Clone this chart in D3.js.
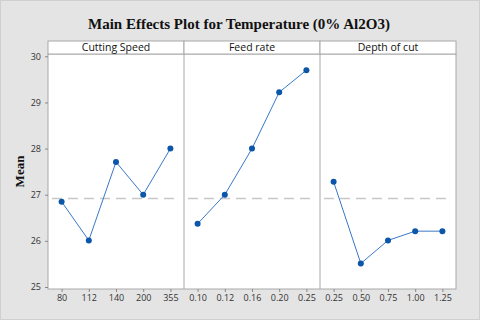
<!DOCTYPE html>
<html>
<head>
<meta charset="utf-8">
<script src="https://cdn.jsdelivr.net/npm/d3@7"></script>
<style>
  html, body { margin: 0; padding: 0; background: #fff; }
  svg { display: block; }
  .tick text { font-family: "Open Sans", "DejaVu Sans", sans-serif; font-size: 9px; fill: #333; }
  .tick line { stroke: #888; }
  .domain { display: none; }
</style>
</head>
<body>
<div id="chart"></div>
<script>
const title = 'Main Effects Plot for Temperature (0% Al2O3)';
const yLabel = 'Mean';
const factors = ['Cutting Speed', 'Feed rate', 'Depth of cut'];
const speedLevels = ['80', '112', '140', '200', '355'];
const speedMeans = [26.85, 26.01, 27.71, 27.0, 28.0];
const feedLevels = ['0.10', '0.12', '0.16', '0.20', '0.25'];
const feedMeans = [26.37, 27.0, 28.0, 29.22, 29.7];
const depthLevels = ['0.25', '0.50', '0.75', '1.00', '1.25'];
const depthMeans = [27.28, 25.51, 26.01, 26.21, 26.21];
const grandMean = 26.92;
const yTicks = [25, 26, 27, 28, 29, 30];

const panels = [
  { name: factors[0], levels: speedLevels, means: speedMeans },
  { name: factors[1], levels: feedLevels, means: feedMeans },
  { name: factors[2], levels: depthLevels, means: depthMeans },
];

const width = 480, height = 320;
const plotL = 48, plotR = 456, plotT = 54, plotB = 289, headerH = 13;
const panelW = (plotR - plotL) / panels.length;

const svg = d3.select('#chart').append('svg')
  .attr('width', width).attr('height', height);

svg.append('rect')
  .attr('x', 0.5).attr('y', 0.5).attr('width', width - 1).attr('height', height - 1)
  .attr('fill', '#e4e4e4').attr('stroke', '#cfcfcf');

svg.append('text')
  .attr('x', 239).attr('y', 29)
  .attr('text-anchor', 'middle')
  .attr('font-family', '"Liberation Serif", serif')
  .attr('font-weight', 'bold')
  .attr('font-size', 15)
  .attr('fill', '#111')
  .text(title);

svg.append('text')
  .attr('transform', `translate(24,${(plotT + plotB) / 2}) rotate(-90)`)
  .attr('text-anchor', 'middle')
  .attr('font-family', '"Liberation Serif", serif')
  .attr('font-weight', 'bold')
  .attr('font-size', 13)
  .attr('fill', '#111')
  .text(yLabel);

const y = d3.scaleLinear().domain([25, 30]).range([plotB - 2, plotT + 2.3]);

// plot area
svg.append('rect')
  .attr('x', plotL).attr('y', plotT).attr('width', plotR - plotL).attr('height', plotB - plotT)
  .attr('fill', '#fff').attr('stroke', '#a8a8a8');

svg.append('g')
  .attr('transform', `translate(${plotL},0)`)
  .call(d3.axisLeft(y).tickValues(yTicks).tickFormat(d3.format('d')).tickSize(3).tickPadding(4));

const line = d3.line();

panels.forEach((p, i) => {
  const x0 = plotL + i * panelW;
  const x = d3.scalePoint().domain(p.levels).range([x0, x0 + panelW]).padding(0.5);

  // header
  svg.append('rect')
    .attr('x', x0).attr('y', plotT - headerH).attr('width', panelW).attr('height', headerH)
    .attr('fill', '#fff').attr('stroke', '#a8a8a8');
  svg.append('text')
    .attr('x', x0 + panelW / 2).attr('y', plotT - 3)
    .attr('text-anchor', 'middle')
    .attr('font-family', '"Open Sans", "DejaVu Sans", sans-serif')
    .attr('font-size', 10.5)
    .attr('fill', '#111')
    .text(p.name);

  if (i > 0) {
    svg.append('line')
      .attr('x1', x0).attr('x2', x0).attr('y1', plotT).attr('y2', plotB)
      .attr('stroke', '#a8a8a8');
  }

  svg.append('g')
    .attr('transform', `translate(0,${plotB})`)
    .call(d3.axisBottom(x).tickSize(3).tickPadding(3));

  // grand mean reference
  svg.append('line')
    .attr('x1', x0 + 4).attr('x2', x0 + panelW - 4)
    .attr('y1', y(grandMean)).attr('y2', y(grandMean))
    .attr('stroke', '#c8c8c8').attr('stroke-width', 1.5)
    .attr('stroke-dasharray', '10,6');

  const pts = p.levels.map((l, j) => [x(l), y(p.means[j])]);
  svg.append('path')
    .attr('d', line(pts))
    .attr('fill', 'none')
    .attr('stroke', '#3a78c8')
    .attr('stroke-width', 1);

  svg.append('g').selectAll('circle')
    .data(pts)
    .join('circle')
    .attr('cx', d => d[0]).attr('cy', d => d[1])
    .attr('r', 3)
    .attr('fill', '#0b56a8');
});
</script>
</body>
</html>
